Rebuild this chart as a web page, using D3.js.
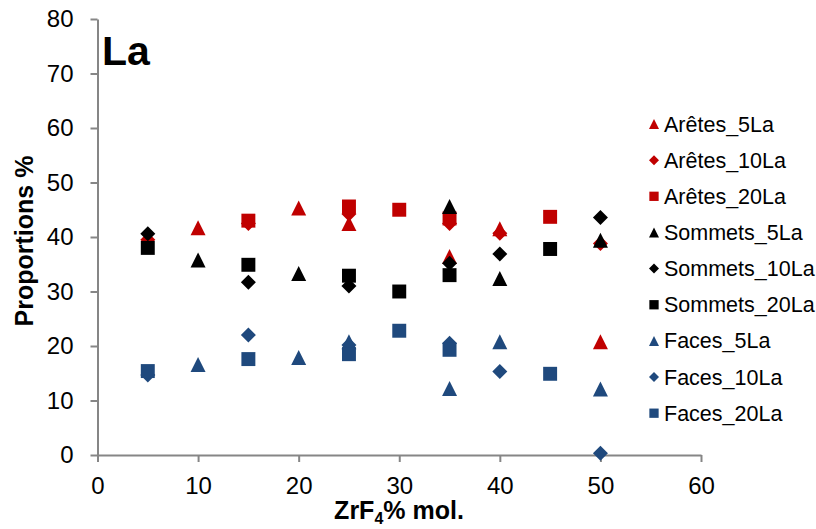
<!DOCTYPE html>
<html>
<head>
<meta charset="utf-8">
<script src="https://cdn.jsdelivr.net/npm/d3@7"></script>
<style>
  html, body { margin: 0; padding: 0; background: #fff; }
  svg { display: block; font-family: "Liberation Sans", Arial, sans-serif; }
</style>
</head>
<body>
<svg id="chart" width="816" height="529"></svg>
<script>
// ---- data ----
const seriesNames = ["Arêtes_5La","Arêtes_10La","Arêtes_20La","Sommets_5La","Sommets_10La","Sommets_20La","Faces_5La","Faces_10La","Faces_20La"];
const aretes5X  = [10, 20, 25, 35, 40, 50];
const aretes5Y  = [41.7, 45.3, 42.5, 36.4, 41.5, 20.8];
const aretes10X = [5, 15, 25, 35, 40, 50];
const aretes10Y = [39.5, 42.5, 44.2, 42.5, 40.7, 38.8];
const aretes20X = [15, 25, 30, 35, 45];
const aretes20Y = [43.0, 45.6, 45.0, 43.4, 43.7];
const sommets5X  = [10, 20, 35, 40, 50];
const sommets5Y  = [35.8, 33.3, 45.6, 32.4, 39.4];
const sommets10X = [5, 15, 25, 35, 40, 50];
const sommets10Y = [40.6, 31.7, 31.0, 35.2, 36.9, 43.6];
const sommets20X = [5, 15, 25, 30, 35, 45];
const sommets20Y = [38.0, 34.9, 32.9, 30.0, 33.0, 37.8];
const faces5X  = [10, 20, 25, 35, 40, 50];
const faces5Y  = [16.6, 17.9, 20.8, 12.2, 20.8, 12.1];
const faces10X = [5, 15, 25, 35, 40, 50];
const faces10Y = [14.7, 22.0, 20.2, 20.5, 15.3, 0.3];
const faces20X = [5, 15, 25, 30, 35, 45];
const faces20Y = [15.4, 17.6, 18.5, 22.8, 19.3, 14.9];
const xTicks = [0, 10, 20, 30, 40, 50, 60];
const yTicks = [0, 10, 20, 30, 40, 50, 60, 70, 80];
const xTitle = "ZrF";
const xTitleSub = "4";
const xTitleEnd = "% mol.";
const yTitle = "Proportions %";
const panelLabel = "La";

// ---- styles ----
const colors = ["#C00000","#C00000","#C00000","#000000","#000000","#000000","#1F497D","#1F497D","#1F497D"];
const shapes = ["tri","dia","sq","tri","dia","sq","tri","dia","sq"];
const seriesX = [aretes5X, aretes10X, aretes20X, sommets5X, sommets10X, sommets20X, faces5X, faces10X, faces20X];
const seriesY = [aretes5Y, aretes10Y, aretes20Y, sommets5Y, sommets10Y, sommets20Y, faces5Y, faces10Y, faces20Y];

const svg = d3.select("#chart");
const x = d3.scaleLinear().domain([0, 60]).range([97.5, 701]);
const y = d3.scaleLinear().domain([0, 80]).range([455, 19]);
const axisColor = "#868686";

function shapePath(type, s) {
  const h = s / 2;
  if (type === "tri") return `M0,${-h}L${h},${h}L${-h},${h}Z`;
  if (type === "dia") return `M0,${-h}L${h},0L0,${h}L${-h},0Z`;
  const q = s * 0.93 / 2;
  return `M${-q},${-q}H${q}V${q}H${-q}Z`;
}

// axes
const yAxis = svg.append("g").attr("transform", `translate(${x(0)},0)`)
  .call(d3.axisLeft(y).tickValues(yTicks).tickSize(7).tickPadding(17).tickSizeOuter(0));
const xAxis = svg.append("g").attr("transform", `translate(0,${y(0)})`)
  .call(d3.axisBottom(x).tickValues(xTicks).tickSize(7).tickPadding(15).tickSizeOuter(0));
[yAxis, xAxis].forEach(g => {
  g.selectAll("path.domain").attr("stroke", axisColor).attr("stroke-width", 2);
  g.selectAll(".tick line").attr("stroke", axisColor).attr("stroke-width", 2);
  g.selectAll(".tick text").attr("fill", "#000").style("font-size", "24px")
    .style("font-family", '"Liberation Sans", Arial, sans-serif');
});

// markers
seriesX.forEach((xs, i) => {
  const pts = xs.map((v, j) => [v, seriesY[i][j]]);
  svg.append("g").selectAll("path").data(pts).join("path")
    .attr("transform", d => `translate(${x(d[0])},${y(d[1])})`)
    .attr("d", shapePath(shapes[i], 15))
    .attr("fill", colors[i]);
});

// panel label
svg.append("text").attr("x", 102).attr("y", 65)
  .style("font-size", "41px").style("font-weight", "bold").text(panelLabel);

// axis titles
svg.append("text").attr("transform", `translate(33,241) rotate(-90)`)
  .attr("text-anchor", "middle").style("font-size", "25px").style("font-weight", "bold")
  .text(yTitle);
const xt = svg.append("text").attr("x", 399).attr("y", 519)
  .attr("text-anchor", "middle").style("font-size", "25px").style("font-weight", "bold");
xt.append("tspan").text(xTitle);
xt.append("tspan").attr("dy", 5).style("font-size", "16px").text(xTitleSub);
xt.append("tspan").attr("dy", -5).text(xTitleEnd);

// legend
const legend = svg.append("g");
seriesNames.forEach((name, i) => {
  const cy = 124 + i * 36.15;
  legend.append("path").attr("transform", `translate(654,${cy})`)
    .attr("d", shapePath(shapes[i], 10)).attr("fill", colors[i]);
  legend.append("text").attr("x", 664).attr("y", cy + 7.5)
    .style("font-size", "21.5px").text(name);
});
</script>
</body>
</html>
